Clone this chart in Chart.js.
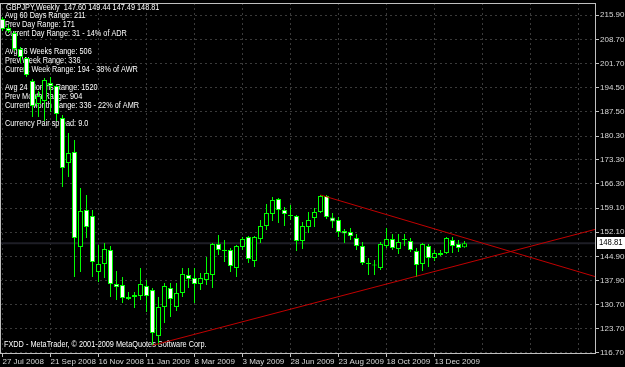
<!DOCTYPE html>
<html><head><meta charset="utf-8">
<script src="https://cdn.jsdelivr.net/npm/chart.js@4/dist/chart.umd.min.js"></script>
<style>html,body{margin:0;padding:0;background:#000;}canvas{display:block;}</style>
</head><body>
<canvas id="c" width="625" height="367"></canvas>
<script>
// ---- data (GBPJPY weekly, week index 0 = 27 Jul 2008) ----
const symbolTitle = 'GBPJPY,Weekly';
const dateLabels = ['27 Jul 2008','21 Sep 2008','16 Nov 2008','11 Jan 2009','8 Mar 2009','3 May 2009','28 Jun 2009','23 Aug 2009','18 Oct 2009','13 Dec 2009'];
const dateTickWeeks = [0,8,16,24,32,40,48,56,64,72,80,88,96];
const opens = [214.72,212.08,210.61,205.91,203.26,196.50,189.74,190.62,195.91,195.03,
  185.62,172.40,175.63,147.71,158.58,156.82,140.36,142.71,146.82,136.83,
  136.53,133.01,133.01,133.30,136.24,135.06,121.54,130.07,135.65,130.07,
  134.18,139.47,138.59,136.83,138.00,139.47,148.59,146.53,146.82,141.53,
  147.71,150.64,143.59,150.06,153.88,157.41,161.81,158.58,157.11,156.82,
  149.47,153.58,156.23,157.99,162.70,156.38,155.64,152.41,152.11,150.35,
  148.00,142.85,142.41,141.53,148.00,150.06,147.12,149.80,149.47,146.53,
  142.71,148.00,144.47,145.35,145.94,149.76,148.59,147.60];
const highs = [215.31,212.96,211.20,206.49,203.55,197.09,193.56,197.38,197.68,195.32,
  186.51,181.21,179.16,165.05,162.99,158.58,148.29,148.88,148.00,140.65,
  138.89,134.48,134.48,141.53,138.00,135.65,133.01,137.12,137.12,137.12,
  141.53,141.53,141.53,140.06,144.77,148.88,151.23,149.76,147.41,148.29,
  150.64,150.94,150.94,155.64,160.34,162.40,162.11,159.46,160.05,157.11,
  155.05,157.99,159.17,162.99,162.99,157.70,156.52,152.99,153.29,151.53,
  149.17,144.47,143.88,149.17,153.29,151.53,151.53,151.53,150.35,147.41,
  148.88,148.59,146.82,146.82,150.64,150.64,149.76,149.44];
const lows = [211.20,210.61,205.32,201.79,197.68,185.92,185.92,184.74,187.39,184.74,
  165.34,168.28,138.89,140.36,150.35,138.89,137.42,138.59,133.01,132.12,
  131.24,132.12,129.77,132.12,128.60,118.90,118.90,125.37,127.13,128.89,
  133.01,135.65,131.24,135.06,136.53,135.65,145.35,143.30,140.36,138.89,
  146.82,143.00,141.83,148.88,152.70,155.35,154.75,153.88,155.64,146.53,
  147.12,151.82,153.58,157.70,155.94,153.29,150.64,148.88,149.76,146.82,
  142.41,139.47,139.47,140.94,147.41,146.82,145.65,148.00,146.24,138.89,
  140.65,141.83,143.59,145.06,145.65,145.94,146.24,147.49];
const closes = [211.78,211.20,205.91,203.55,198.26,189.15,192.09,196.79,195.03,186.80,
  170.93,175.34,150.35,158.29,153.58,143.30,142.71,147.12,136.83,135.94,
  132.71,132.42,133.60,136.83,133.30,122.42,130.07,136.24,132.42,134.18,
  139.77,138.30,136.83,138.59,140.06,148.59,146.82,146.88,142.12,148.00,
  150.06,144.18,150.64,153.88,157.70,161.52,158.58,157.41,156.82,149.47,
  153.88,155.64,157.99,162.70,156.52,155.20,152.11,151.67,150.94,148.00,
  143.00,142.71,142.30,148.59,150.06,147.41,149.17,149.76,146.82,142.41,
  148.59,144.47,145.94,145.94,150.35,148.00,147.41,148.81];
const priceTicks = [215.90,208.70,201.70,194.50,187.50,180.30,173.30,166.30,159.10,152.10,144.90,137.90,130.70,123.70,116.70];
const supportLine = [{x:25, y:118.80},{x:98.92, y:152.95}];
const resistanceLine = [{x:53, y:162.99},{x:98.92, y:138.93}];
const infoLines = ['Avg 60 Days Range: 211','Prev Day Range: 171','Current Day Range: 31 - 14% of ADR','',
  'Avg 26 Weeks Range: 506','Prev Week Range: 336','Current Week Range: 194 - 38% of AWR','',
  'Avg 24 Months Range: 1520','Prev Month Range: 904','Current Month Range: 336 - 22% of AMR','',
  'Currency Pair spread: 9.0'];
const copyrightText = 'FXDD - MetaTrader, \u00A9 2001-2009 MetaQuotes Software Corp.';

// ---- derived ----
const last = opens.length - 1;
const lastPrice = closes[last];
const bodies = opens.map((o,i)=>({x:i, y:[o, closes[i]]}));
const wicks = lows.map((l,i)=>({x:i, y:[l, highs[i]]}));
const bodyFill = opens.map((o,i)=> closes[i] >= o ? '#000000' : '#ffffff');
const fmt = v => v.toFixed(2);
const FONT = '"Liberation Sans", Arial, sans-serif';
const GREEN = '#00ff00';

function narrowText(c, t, x, y){
  c.save(); c.translate(x, y); c.scale(0.86, 1); c.fillText(t, 0, 0); c.restore();
}
const bgPlugin = {
  id:'bg',
  beforeDraw(chart){ const c=chart.ctx; c.save(); c.fillStyle='#000'; c.fillRect(0,0,chart.width,chart.height); c.restore(); }
};
const textPlugin = {
  id:'texts',
  beforeDatasetsDraw(chart){
    const c=chart.ctx; c.save();
    c.fillStyle='#ffffff'; c.textBaseline='middle'; c.textAlign='left';
    c.font='8.5px '+FONT;
    narrowText(c, symbolTitle+'  '+[opens[last],highs[last],lows[last],closes[last]].map(fmt).join(' '), 6, 7.5);
    infoLines.forEach((t,k)=>{ if(t) narrowText(c, t, 5, 15.5 + 9*k); });
    narrowText(c, copyrightText, 4, 345);
    c.restore();
  }
};
const framePlugin = {
  id:'frame',
  afterDraw(chart){
    const a=chart.chartArea, c=chart.ctx, y=chart.scales.y;
    c.save();
    c.strokeStyle='#c0c0c0'; c.lineWidth=1;
    c.strokeRect(a.left+0.5, a.top+0.5, a.right-a.left-1, a.bottom-a.top);
    const py = Math.round(y.getPixelForValue(lastPrice));
    c.fillStyle='#ffffff'; c.fillRect(a.right+1, py-6, 28, 12);
    c.fillStyle='#000000'; c.font='9px '+FONT; c.textBaseline='middle'; c.textAlign='left';
    narrowText(c, fmt(lastPrice), a.right+3, py);
    c.restore();
  }
};

new Chart(document.getElementById('c'), {
  type:'bar',
  data:{
    datasets:[
      {type:'line', data:[{x:-0.42,y:lastPrice},{x:98.92,y:lastPrice}], borderColor:'#1e1e26', borderWidth:2, pointRadius:0, order:5},
      {data:wicks, backgroundColor:GREEN, borderWidth:0, barThickness:1, grouped:false, inflateAmount:0, order:3},
      {data:bodies, backgroundColor:bodyFill, borderColor:GREEN, borderWidth:1, borderSkipped:false, barThickness:5, minBarLength:1, grouped:false, inflateAmount:0, order:2},
      {type:'line', data:supportLine, borderColor:'#c00000', borderWidth:1, pointRadius:0, order:1},
      {type:'line', data:resistanceLine, borderColor:'#c00000', borderWidth:1, pointRadius:0, order:1}
    ]
  },
  options:{
    responsive:false, maintainAspectRatio:false, animation:false, devicePixelRatio:1,
    layout:{padding:{top:3,left:0,right:0,bottom:0}},
    plugins:{legend:{display:false}, tooltip:{enabled:false}},
    scales:{
      x:{
        type:'linear', min:-0.41667, max:98.9167, offset:false, bounds:'data',
        afterBuildTicks:s=>{ s.ticks = dateTickWeeks.map(v=>({value:v})); },
        afterFit:s=>{ s.height=14; s.paddingLeft=0; s.paddingRight=0; },
        ticks:{ autoSkip:false, maxRotation:0, minRotation:0, align:'start', padding:0, color:'#d8d8d8', font:{family:FONT,size:8},
          callback:v=> dateLabels[v/8] || '' },
        grid:{ offset:false, color:'#3a3a3a', tickLength:4, tickColor:ctx=> (ctx.tick && dateLabels[ctx.tick.value/8]) ? '#c0c0c0' : 'rgba(0,0,0,0)', tickBorderDash:[] },
        border:{display:false, dash:[2,3]}
      },
      y:{
        position:'right', min:116.55, max:219.43,
        afterBuildTicks:s=>{ s.ticks = priceTicks.map(v=>({value:v})); },
        afterFit:s=>{ s.width=29; s.paddingTop=0; s.paddingBottom=0; },
        ticks:{ padding:1, color:'#d8d8d8', font:{family:FONT,size:8}, callback:v=>fmt(v) },
        grid:{ color:'#3a3a3a', tickLength:3, tickColor:'#c0c0c0', tickBorderDash:[] },
        border:{display:false, dash:[2,3]}
      }
    }
  },
  plugins:[bgPlugin, textPlugin, framePlugin]
});
</script>
</body></html>
